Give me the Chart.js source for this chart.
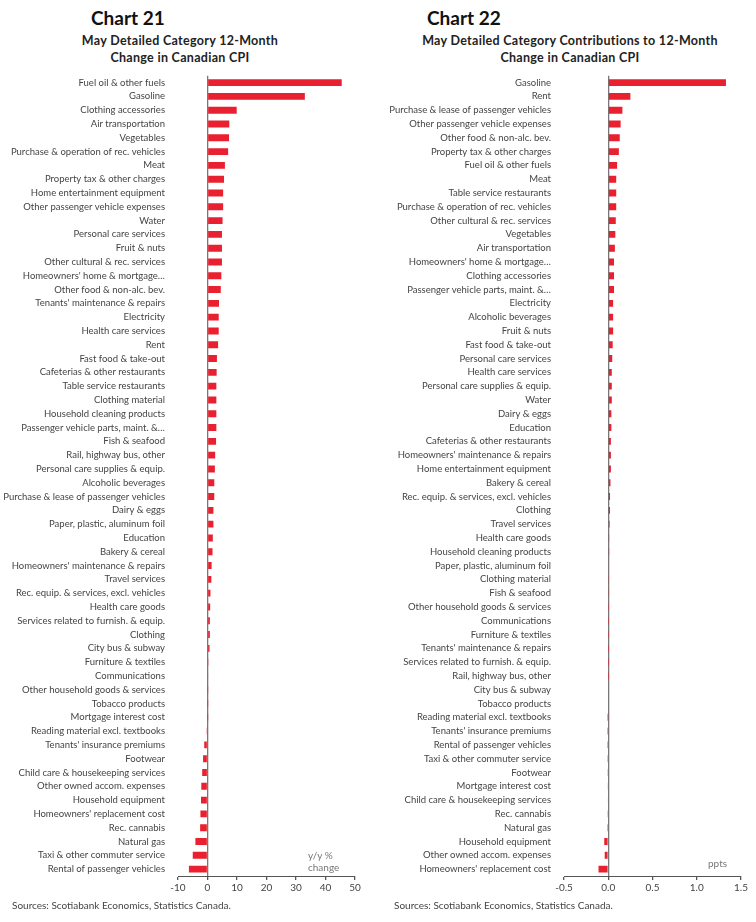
<!DOCTYPE html>
<html><head><meta charset="utf-8">
<script src="https://cdn.jsdelivr.net/npm/chart.js@4"></script>
<style>
body{margin:0;width:756px;height:922px;background:#fff;font-family:Lato,sans-serif;position:relative;overflow:hidden}
.h{position:absolute;font-weight:bold;font-size:19px;color:#111}
.t{position:absolute;font-weight:bold;font-size:12.5px;color:#222;text-align:center;line-height:17px;letter-spacing:0.3px}
.u{position:absolute;font-size:10px;color:#777;line-height:12px}
.src{position:absolute;font-size:10px;color:#444;top:899px}
canvas{position:absolute}
</style></head><body>
<div class="h" style="left:91px;top:6px">Chart 21</div>
<div class="t" style="left:30px;top:32px;width:300px">May Detailed Category 12-Month<br>Change in Canadian CPI</div>
<div class="h" style="left:427px;top:6px">Chart 22</div>
<div class="t" style="left:400px;top:32px;width:340px">May Detailed Category Contributions to 12-Month<br>Change in Canadian CPI</div>
<div id="w1" style="position:absolute;left:0;top:65px;width:378px;height:835px"><canvas id="c1"></canvas></div>
<div id="w2" style="position:absolute;left:378px;top:65px;width:378px;height:835px"><canvas id="c2"></canvas></div>
<div class="u" style="left:308px;top:849px">y/y %<br>change</div>
<div class="u" style="left:708px;top:857px">ppts</div>
<div class="src" style="left:12px">Sources: Scotiabank Economics, Statistics Canada.</div>
<div class="src" style="left:394px">Sources: Scotiabank Economics, Statistics Canada.</div>
<script>
// ── Chart 21: y/y % change by category ──
const cats21 = ['Fuel oil & other fuels','Gasoline','Clothing accessories','Air transportation','Vegetables','Purchase & operation of rec. vehicles','Meat','Property tax & other charges','Home entertainment equipment','Other passenger vehicle expenses','Water','Personal care services','Fruit & nuts','Other cultural & rec. services','Homeowners\' home & mortgage…','Other food & non-alc. bev.','Tenants\' maintenance & repairs','Electricity','Health care services','Rent','Fast food & take-out','Cafeterias & other restaurants','Table service restaurants','Clothing material','Household cleaning products','Passenger vehicle parts, maint. &…','Fish & seafood','Rail, highway bus, other','Personal care supplies & equip.','Alcoholic beverages','Purchase & lease of passenger vehicles','Dairy & eggs','Paper, plastic, aluminum foil','Education','Bakery & cereal','Homeowners\' maintenance & repairs','Travel services','Rec. equip. & services, excl. vehicles','Health care goods','Services related to furnish. & equip.','Clothing','City bus & subway','Furniture & textiles','Communications','Other household goods & services','Tobacco products','Mortgage interest cost','Reading material excl. textbooks','Tenants\' insurance premiums','Footwear','Child care & housekeeping services','Other owned accom. expenses','Household equipment','Homeowners\' replacement cost','Rec. cannabis','Natural gas','Taxi & other commuter service','Rental of passenger vehicles'];
const vals21 = [45.5,33.0,9.9,7.4,7.3,7.0,5.9,5.6,5.3,5.3,5.1,4.9,4.9,4.9,4.7,4.5,3.9,3.8,3.8,3.6,3.2,3.1,3.0,3.0,3.0,3.0,2.9,2.6,2.5,2.3,2.3,2.0,2.0,1.8,1.7,1.4,1.3,1.0,0.9,0.8,0.8,0.7,0.3,0.2,0.1,0.05,0.02,-0.3,-1.1,-1.5,-1.8,-2.1,-2.2,-2.4,-2.5,-4.1,-5.0,-6.3];
const ticks21 = [-10,0,10,20,30,40,50];

// ── Chart 22: contributions, ppts ──
const cats22 = ['Gasoline','Rent','Purchase & lease of passenger vehicles','Other passenger vehicle expenses','Other food & non-alc. bev.','Property tax & other charges','Fuel oil & other fuels','Meat','Table service restaurants','Purchase & operation of rec. vehicles','Other cultural & rec. services','Vegetables','Air transportation','Homeowners\' home & mortgage…','Clothing accessories','Passenger vehicle parts, maint. &…','Electricity','Alcoholic beverages','Fruit & nuts','Fast food & take-out','Personal care services','Health care services','Personal care supplies & equip.','Water','Dairy & eggs','Education','Cafeterias & other restaurants','Homeowners\' maintenance & repairs','Home entertainment equipment','Bakery & cereal','Rec. equip. & services, excl. vehicles','Clothing','Travel services','Health care goods','Household cleaning products','Paper, plastic, aluminum foil','Clothing material','Fish & seafood','Other household goods & services','Communications','Furniture & textiles','Tenants\' maintenance & repairs','Services related to furnish. & equip.','Rail, highway bus, other','City bus & subway','Tobacco products','Reading material excl. textbooks','Tenants\' insurance premiums','Rental of passenger vehicles','Taxi & other commuter service','Footwear','Mortgage interest cost','Child care & housekeeping services','Rec. cannabis','Natural gas','Household equipment','Other owned accom. expenses','Homeowners\' replacement cost'];
const vals22 = [1.33,0.25,0.16,0.14,0.13,0.12,0.10,0.09,0.09,0.09,0.085,0.08,0.075,0.065,0.065,0.065,0.055,0.055,0.055,0.05,0.045,0.04,0.04,0.04,0.035,0.035,0.03,0.03,0.03,0.025,0.02,0.02,0.015,0.01,0.01,0.008,0.005,0.005,0.003,0.002,0.002,0.001,0.001,0.001,0.0,0.0,-0.001,-0.002,-0.003,-0.004,-0.005,-0.006,-0.008,-0.01,-0.012,-0.045,-0.04,-0.11];
const ticks22 = [-0.5,0,0.5,1,1.5];

const RED = '#e8202f';

function buildChart(id, cats, vals, ticks, yWidth, padRight, fmt) {
  return new Chart(document.getElementById(id), {
    type: 'bar',
    data: { labels: cats, datasets: [{ data: vals, backgroundColor: RED, categoryPercentage: 1, barPercentage: 0.5 }] },
    options: {
      indexAxis: 'y', responsive: true, maintainAspectRatio: false, animation: false,
      layout: { padding: { top: 3, right: padRight, left: 0, bottom: 0 } },
      plugins: { legend: { display: false }, tooltip: { enabled: false } },
      scales: {
        x: {
          min: ticks[0], max: ticks[ticks.length - 1],
          afterBuildTicks: s => { s.ticks = ticks.map(v => ({ value: v })); },
          afterFit: s => { s.height = 24; },
          grid: { drawOnChartArea: true, color: c => c.tick && c.tick.value === 0 ? '#777' : 'transparent', lineWidth: 1.3, tickLength: 4, tickColor: '#555' },
          border: { color: '#555' },
          ticks: { color: '#444', font: { family: 'Lato', size: 10 }, callback: fmt, padding: 2 }
        },
        y: {
          afterFit: s => { s.width = yWidth; },
          grid: { display: false }, border: { display: false },
          ticks: { color: '#444', font: { family: 'Lato', size: 9.5 }, autoSkip: false, padding: 5 }
        }
      }
    }
  });
}

buildChart('c1', cats21, vals21, ticks21, 178, 23, v => v);
buildChart('c2', cats22, vals22, ticks22, 186, 15, v => v.toFixed(1));
</script>
</body></html>
